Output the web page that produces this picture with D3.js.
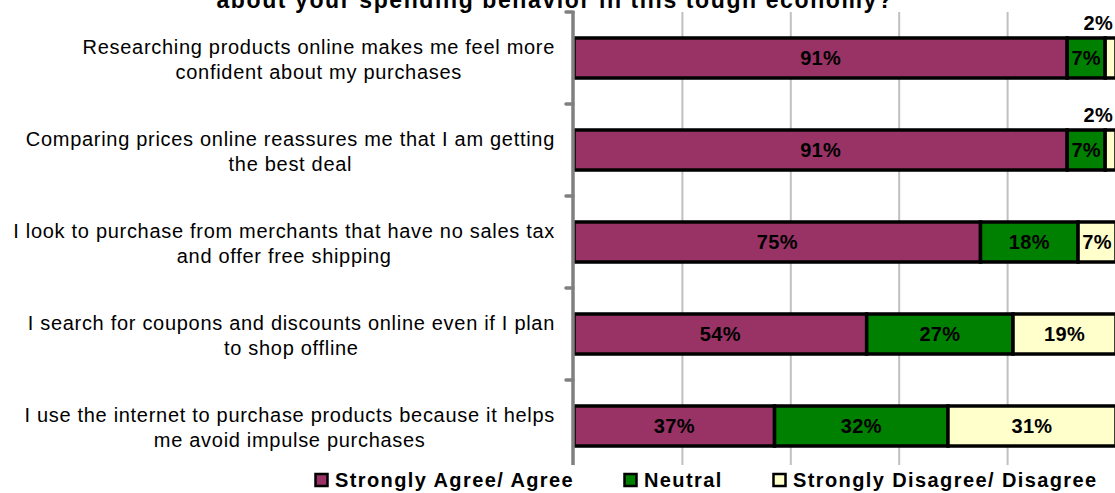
<!DOCTYPE html>
<html>
<head>
<meta charset="utf-8">
<script src="https://cdn.jsdelivr.net/npm/d3@7"></script>
<style>
  html, body { margin: 0; padding: 0; background: #ffffff; }
  svg { display: block; font-family: "Liberation Sans", Arial, sans-serif; }
</style>
</head>
<body>
<svg id="chart" width="1115" height="493"></svg>
<script>
// Survey statements (two lines each)
const categories = [
  ["Researching products online makes me feel more", "confident about my purchases"],
  ["Comparing prices online reassures me that I am getting", "the best deal"],
  ["I look to purchase from merchants that have no sales tax", "and offer free shipping"],
  ["I search for coupons and discounts online even if I plan", "to shop offline"],
  ["I use the internet to purchase products because it helps", "me avoid impulse purchases"]
];
const seriesNames = ["Strongly Agree/ Agree", "Neutral", "Strongly Disagree/ Disagree"];
const agree    = [91, 91, 75, 54, 37];
const neutral  = [7, 7, 18, 27, 32];
const disagree = [2, 2, 7, 19, 31];
const gridTicks = [20, 40, 60, 80, 100];
const titleText = "about your spending behavior in this tough economy?";
const colors = ["#993366", "#008000", "#ffffcc"];

const svg = d3.select("#chart");
const plot = { left: 574, right: 1116, top: 12, bottom: 472 };

const x = d3.scaleLinear().domain([0, 100]).range([plot.left, plot.right]);
const keys = categories.map((c, i) => "c" + i);
const y = d3.scaleBand().domain(keys).range([plot.top, plot.bottom])
  .paddingInner(0.565).paddingOuter(0.2825);

// Title (only its last line falls inside the frame)
svg.append("text")
  .attr("x", 555).attr("y", 8)
  .attr("text-anchor", "middle")
  .style("font-weight", "bold").style("font-size", "23px").style("letter-spacing", "1.6px")
  .text(titleText);

// Vertical gridlines
svg.append("g").selectAll("line").data(gridTicks).join("line")
  .attr("x1", d => x(d)).attr("x2", d => x(d))
  .attr("y1", plot.top).attr("y2", 465)
  .attr("stroke", "#c0c0c0").attr("stroke-width", 2);

// Stacked segments
const rows = keys.map((k, i) => ({ key: k, c0: agree[i], c1: neutral[i], c2: disagree[i] }));
const stack = d3.stack().keys(["c0", "c1", "c2"])(rows);

const layers = svg.append("g").selectAll("g").data(stack).join("g")
  .attr("fill", (d, i) => colors[i]);

layers.selectAll("rect").data(d => d.map(v => ({ v, key: v.data.key }))).join("rect")
  .attr("x", d => x(d.v[0]))
  .attr("y", d => y(d.key))
  .attr("width", d => x(d.v[1]) - x(d.v[0]))
  .attr("height", y.bandwidth())
  .attr("stroke", "#000").attr("stroke-width", 3.5);

// Value labels
layers.each(function () {
  d3.select(this).selectAll("text").data(d => d.map(v => ({ v, key: v.data.key }))).join("text")
    .attr("fill", "#000")
    .style("font-weight", "bold").style("font-size", "20px").style("letter-spacing", "0.3px")
    .each(function (d) {
      const val = d.v[1] - d.v[0];
      const t = d3.select(this).text(val + "%");
      if (val < 4) {
        t.attr("x", plot.right - 3).attr("y", y(d.key) - 8).attr("text-anchor", "end");
      } else {
        t.attr("x", (x(d.v[0]) + x(d.v[1])) / 2)
         .attr("y", y(d.key) + y.bandwidth() / 2)
         .attr("text-anchor", "middle").attr("dominant-baseline", "central");
      }
    });
});

// Category axis
const axisG = svg.append("g");
const step = y.step();
const boundaries = d3.range(keys.length).map(i => plot.top + i * step);
axisG.selectAll("line.tick").data(boundaries).join("line")
  .attr("x1", plot.left - 8).attr("x2", plot.left - 1)
  .attr("y1", d => d).attr("y2", d => d)
  .attr("stroke", "#808080").attr("stroke-width", 3.5).attr("stroke-linecap", "round");
axisG.append("line")
  .attr("x1", plot.left - 1).attr("x2", plot.left - 1)
  .attr("y1", plot.top - 1).attr("y2", 465)
  .attr("stroke", "#808080").attr("stroke-width", 3.5);

// Category labels: each block right-aligned to the axis, lines centred within it
const labelRight = 555;
const lab = svg.append("g").selectAll("text").data(categories).join("text")
  .attr("text-anchor", "middle")
  .style("font-size", "20px").style("letter-spacing", "0.7px").attr("fill", "#000");
lab.each(function (lines, i) {
  const cy = y(keys[i]) + y.bandwidth() / 2 + 1.5;
  const g = d3.select(this);
  const spans = g.selectAll("tspan").data(lines).join("tspan")
    .attr("y", (d, j) => cy + (j - 0.5) * 25.5)
    .attr("dominant-baseline", "central")
    .text(d => d);
  const maxW = d3.max(spans.nodes(), n => n.getComputedTextLength());
  spans.attr("x", labelRight - maxW / 2);
});

// Legend
const legendX = [314, 623, 772];
const lg = svg.append("g").selectAll("g").data(seriesNames).join("g")
  .attr("transform", (d, i) => `translate(${legendX[i]},480)`);
lg.append("rect").attr("x", 1.5).attr("y", -6).attr("width", 12).attr("height", 12)
  .attr("fill", (d, i) => colors[i]).attr("stroke", "#000").attr("stroke-width", 2.5);
lg.append("text").attr("x", 21).attr("y", 0).attr("dominant-baseline", "central")
  .style("font-weight", "bold").style("font-size", "20px").style("letter-spacing", "1.4px")
  .text(d => d);
</script>
</body>
</html>
